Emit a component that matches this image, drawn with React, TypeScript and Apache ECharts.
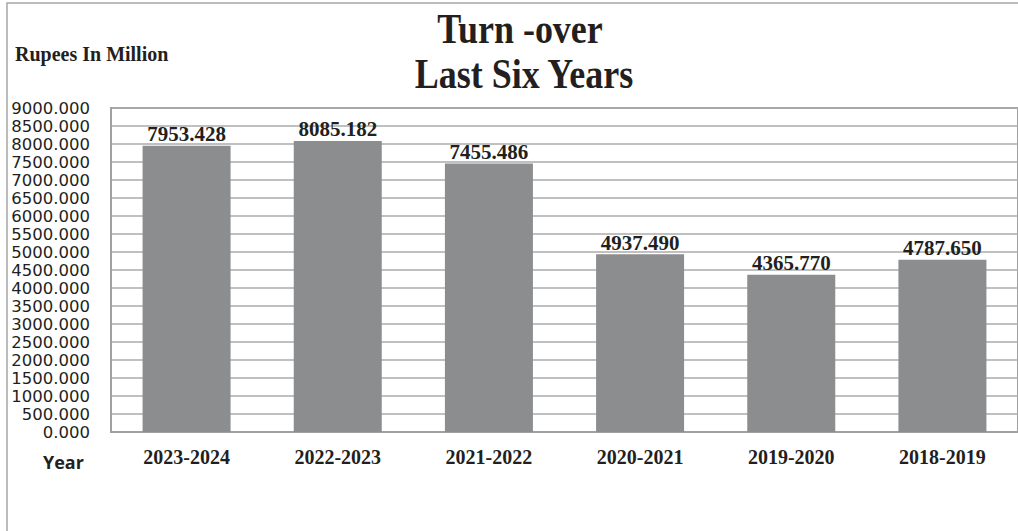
import React, { useEffect, useRef } from "react";
import * as echarts from "echarts";

const categories = ["2023-2024", "2022-2023", "2021-2022", "2020-2021", "2019-2020", "2018-2019"];
const turnover = [7953.428, 8085.182, 7455.486, 4937.49, 4365.77, 4787.65];
const titleLines = ["Turn -over", "Last Six Years"];
const yUnitLabel = "Rupees In Million";
const xAxisLabel = "Year";

const INK = "#231f20";
const SERIF = '"Liberation Serif", "Times New Roman", serif';
const SANS = '"Open Sans", "Noto Sans", sans-serif';
const TICK_SANS = '"DejaVu Sans", "Open Sans", sans-serif';

export default function App() {
  const ref = useRef<HTMLDivElement>(null);

  useEffect(() => {
    if (!ref.current) return;
    const chart = echarts.init(ref.current, null, { renderer: "svg" });
    chart.setOption({
      animation: false,
      backgroundColor: "#ffffff",
      grid: {
        left: 111,
        top: 108,
        bottom: 99,
        right: -13,
        show: true,
        borderColor: "#a0a0a0",
        borderWidth: 2,
        containLabel: false,
      },
      xAxis: {
        type: "category",
        data: categories,
        axisLine: { show: true, lineStyle: { color: "#a0a0a0", width: 2 } },
        axisTick: { show: false },
        axisLabel: {
          margin: 15,
          color: INK,
          fontFamily: SERIF,
          fontWeight: "bold",
          fontSize: 20,
        },
      },
      yAxis: {
        type: "value",
        min: 0,
        max: 9000,
        interval: 500,
        axisLine: { show: true, lineStyle: { color: "#a0a0a0", width: 2 } },
        axisTick: { show: false },
        splitLine: { show: true, lineStyle: { color: "#ababab", width: 1.5 } },
        axisLabel: {
          margin: 21,
          color: INK,
          fontFamily: TICK_SANS,
          fontSize: 16.5,
          lineHeight: 16.5,
          formatter: (v: number) => v.toFixed(3),
        },
      },
      series: [
        {
          type: "bar",
          data: turnover,
          barWidth: 88,
          itemStyle: { color: "#8c8d8f" },
          label: {
            show: true,
            position: "top",
            distance: 1,
            color: INK,
            fontFamily: SERIF,
            fontWeight: "bold",
            fontSize: 21,
            formatter: (p: any) => Number(p.value).toFixed(3),
          },
        },
      ],
      graphic: [
        {
          type: "rect",
          silent: true,
          shape: { x: 7, y: 3, width: 1200, height: 700 },
          style: { fill: "none", stroke: "#a6a6a6", lineWidth: 1.5 },
        },
        {
          type: "text",
          x: 520,
          y: 29,
          scaleY: 1.15,
          style: {
            text: titleLines[0],
            font: `bold 36px ${SERIF}`,
            fill: INK,
            textAlign: "center",
            textVerticalAlign: "middle",
          },
        },
        {
          type: "text",
          x: 524,
          y: 73.5,
          scaleY: 1.15,
          style: {
            text: titleLines[1],
            font: `bold 36px ${SERIF}`,
            fill: INK,
            textAlign: "center",
            textVerticalAlign: "middle",
          },
        },
        {
          type: "text",
          x: 15,
          y: 53.5,
          style: {
            text: yUnitLabel,
            font: `bold 20px ${SERIF}`,
            fill: INK,
            textAlign: "left",
            textVerticalAlign: "middle",
          },
        },
        {
          type: "text",
          x: 43,
          y: 462,
          style: {
            text: xAxisLabel,
            font: `bold 18px ${SANS}`,
            fill: INK,
            textAlign: "left",
            textVerticalAlign: "middle",
          },
        },
      ],
    });
    return () => chart.dispose();
  }, []);

  return (
    <div style={{ position: "fixed", left: 0, top: 0, width: 1018, height: 531, background: "#fff", overflow: "hidden" }}>
      <div ref={ref} style={{ width: 1018, height: 531 }} />
    </div>
  );
}
